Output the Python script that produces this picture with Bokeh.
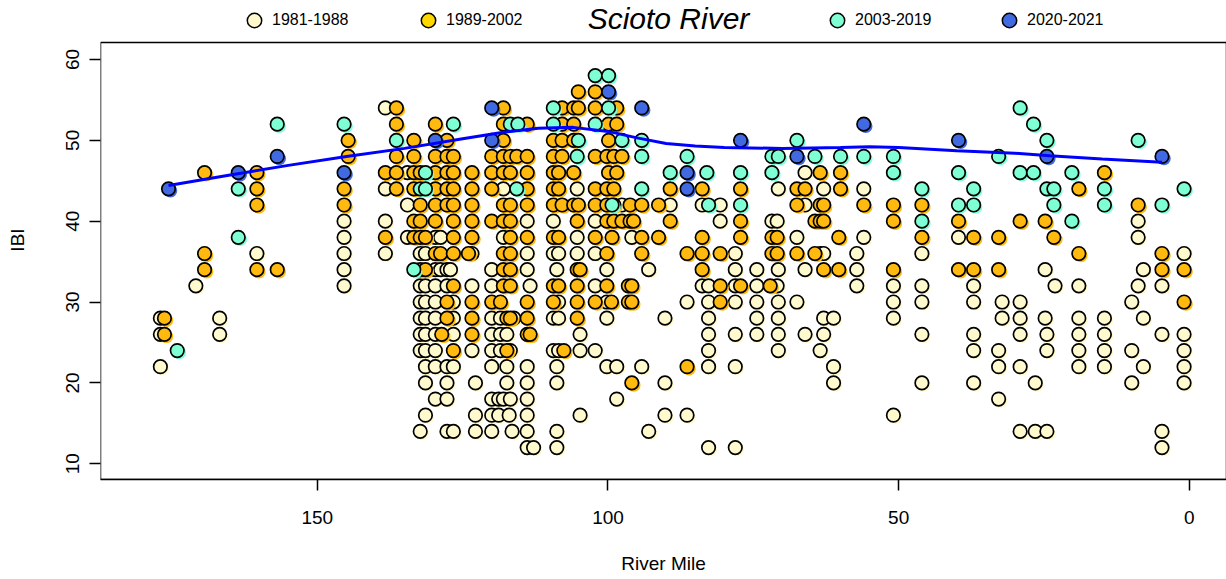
from bokeh.plotting import figure
from bokeh.models import Range1d, Legend, LegendItem, Label, FixedTicker, BoxAnnotation
from bokeh.embed import file_html
from bokeh.resources import INLINE

periods = ["1981-1988", "1989-2002", "2003-2019", "2020-2021"]
point_colors = ["#FFFACD", "#FFB90F", "#7FFFD4", "#4169E1"]
legend_colors = ["#FFFACD", "#FFD700", "#7FFFD4", "#4169E1"]

# ---- 1981-1988 ----
rm_1981 = [138.3,
           134.5, 66.1,
           138.3, 118.0, 105.3, 70.7, 62.9, 56.0,
           134.5, 97.6, 89.3, 83.8, 80.7, 66.1,
           145.4, 138.3, 113.9, 109.4, 102.2, 80.7, 71.8, 70.9, 8.8,
           145.4, 134.5, 129.7, 128.8, 118.0, 105.3, 95.9, 67.5, 56.0, 39.7, 8.8,
           160.4, 145.4, 138.3, 132.3, 131.4, 123.4, 113.9, 109.4, 108.5, 105.3, 102.2, 78.1, 63.5, 62.9, 57.2, 46.0, 0.9,
           145.4, 129.7, 128.8, 127.7, 127.1, 120.0, 113.9, 108.8, 100.2, 93.0, 78.1, 74.4, 70.7, 66.1, 57.2, 24.8, 7.9,
           170.9, 145.4, 132.3, 131.4, 129.7, 127.7, 123.4, 120.0, 113.4, 102.2, 83.8, 82.7, 78.1, 74.4, 70.9, 57.2, 50.9, 46.0, 37.1, 23.1, 19.0, 8.8, 4.7,
           132.3, 131.4, 129.7, 126.6, 108.5, 100.2, 86.4, 82.7, 78.1, 74.4, 70.7, 67.5, 50.9, 46.0, 37.1, 32.2, 29.1, 9.9,
           177.0, 166.8, 132.3, 131.4, 129.7, 126.6, 120.0, 118.5, 116.2, 109.4, 108.5, 100.2, 90.2, 82.7, 74.4, 70.7, 62.9, 61.2, 50.9, 32.2, 29.1, 24.8, 19.0, 14.6, 7.9,
           177.0, 166.8, 132.3, 131.4, 129.7, 126.6, 120.0, 118.5, 117.4, 104.8, 82.7, 78.1, 74.4, 70.7, 66.1, 62.9, 46.0, 37.1, 29.1, 24.5, 19.0, 14.6, 4.7, 0.9,
           132.3, 131.4, 129.7, 123.4, 120.0, 118.5, 116.8, 109.4, 108.5, 104.8, 102.2, 82.7, 70.7, 63.5, 37.1, 32.8, 24.5, 19.0, 14.6, 9.9, 0.9,
           177.0, 131.4, 129.7, 127.7, 126.6, 120.0, 117.4, 113.9, 108.8, 100.2, 98.5, 94.2, 82.7, 78.1, 61.2, 32.8, 29.1, 19.0, 14.6, 7.9, 0.9,
           131.4, 127.7, 122.8, 117.4, 113.9, 108.8, 90.2, 61.2, 46.0, 37.1, 26.5, 9.9, 0.9,
           129.7, 127.7, 120.0, 118.8, 118.0, 116.8, 113.9, 98.5, 32.8,
           131.4, 122.8, 120.0, 118.8, 117.0, 113.9, 104.8, 90.2, 86.4, 50.9,
           132.3, 127.7, 126.6, 122.8, 120.0, 116.5, 113.9, 108.8, 93.0, 29.1, 26.5, 24.5, 4.7,
           113.9, 112.8, 108.8, 82.7, 78.1, 4.7]
ibi_1981 = ([54] * 1 + [46] * 2 + [44] * 6 + [42] * 6 + [40] * 9 + [38] * 11 + [36] * 17 +
            [34] * 17 + [32] * 23 + [30] * 18 + [28] * 25 + [26] * 24 + [24] * 21 + [22] * 21 +
            [20] * 13 + [18] * 9 + [16] * 10 + [14] * 13 + [12] * 6)

# ---- 1989-2002 ----
rm_1989 = [105.1, 102.2,
           136.4, 118.0, 107.9, 105.9, 105.1, 102.2, 98.5,
           136.4, 129.7, 118.0, 113.9, 107.9, 105.9, 99.9, 98.5,
           144.7, 133.4, 127.7, 118.0, 109.4, 107.9, 105.9, 99.9,
           144.7, 136.4, 133.4, 129.7, 127.7, 126.6, 120.0, 118.0, 116.8, 115.7, 113.9, 109.4, 107.9, 102.2, 100.2, 99.0, 97.6,
           169.4, 160.4, 138.3, 136.4, 133.4, 132.3, 129.7, 127.7, 126.6, 123.4, 120.0, 118.0, 116.8, 113.9, 109.4, 108.5, 105.9, 99.9, 98.5, 63.5, 60.0, 14.6,
           160.4, 145.4, 136.4, 133.4, 129.7, 127.7, 126.6, 123.4, 120.0, 113.9, 109.4, 108.5, 102.2, 100.2, 99.0, 89.3, 83.8, 77.2, 67.5, 66.1, 60.0, 19.0,
           160.4, 145.4, 132.3, 129.7, 127.7, 126.6, 123.4, 118.0, 116.8, 113.9, 109.4, 107.9, 105.9, 105.1, 102.2, 100.2, 99.0, 96.2, 94.2, 91.3, 67.5, 63.5, 62.9, 56.0, 50.9, 46.0, 8.8,
           133.4, 132.3, 129.7, 126.6, 123.4, 120.0, 118.0, 116.8, 105.3, 100.2, 99.0, 97.6, 96.2, 95.6, 89.3, 77.2, 64.4, 63.5, 62.9, 50.9, 39.7, 29.1, 24.8,
           138.3, 133.4, 132.3, 131.4, 126.6, 123.4, 116.8, 113.9, 109.4, 108.5, 102.2, 99.3, 94.2, 91.3, 83.8, 77.2, 71.8, 70.9, 60.3, 46.0, 37.1, 32.8, 23.3,
           169.4, 129.7, 128.8, 126.6, 124.0, 118.0, 116.8, 100.2, 94.2, 86.4, 83.8, 80.7, 71.8, 70.9, 67.5, 64.4, 19.0, 4.7,
           169.4, 160.4, 156.9, 132.3, 131.4, 118.0, 116.8, 105.3, 104.8, 83.8, 62.9, 60.3, 50.9, 39.7, 37.1, 32.8, 4.7, 0.9,
           126.6, 118.0, 116.8, 109.4, 108.5, 105.3, 100.2, 96.5, 95.9, 80.7, 77.2, 72.1,
           127.7, 123.4, 120.0, 118.5, 113.9, 109.4, 105.3, 102.2, 99.4, 96.5, 95.9, 80.7, 0.9,
           176.3, 127.7, 123.4, 117.4, 116.8, 113.9, 105.3,
           176.3, 128.6, 123.4, 113.9, 113.4,
           126.6, 117.4, 107.6,
           86.4,
           95.9]
ibi_1989 = ([56] * 2 + [54] * 7 + [52] * 8 + [50] * 8 + [48] * 17 + [46] * 22 + [44] * 22 +
            [42] * 27 + [40] * 23 + [38] * 23 + [36] * 18 + [34] * 18 + [32] * 12 + [30] * 13 +
            [28] * 7 + [26] * 5 + [24] * 3 + [22] * 1 + [20] * 1)

# ---- 2003-2019 ----
rm_2003 = [102.2, 99.9,
           109.4, 99.9, 29.1,
           156.9, 145.4, 126.6, 116.8, 115.5, 109.4, 102.2, 26.8,
           136.4, 105.1, 97.6, 94.2, 67.5, 24.5, 8.8,
           105.3, 94.2, 86.4, 71.8, 70.7, 64.4, 60.0, 56.0, 50.9, 32.8,
           131.4, 89.3, 83.0, 77.2, 71.8, 50.9, 39.7, 29.1, 26.8, 20.2,
           163.6, 132.3, 131.4, 115.7, 94.2, 46.0, 37.1, 24.5, 23.3, 14.6, 0.9,
           99.3, 82.7, 77.2, 39.7, 37.1, 23.3, 14.6, 4.7,
           46.0, 20.2,
           163.6,
           133.4,
           174.1]
ibi_2003 = ([58] * 2 + [54] * 3 + [52] * 8 + [50] * 7 + [48] * 10 + [46] * 10 + [44] * 11 +
            [42] * 8 + [40] * 2 + [38] * 1 + [34] * 1 + [24] * 1)

# ---- 2020-2021 ----
rm_2020 = [99.9, 120.0, 94.2, 56.0, 129.7, 120.0, 77.2, 39.7,
           156.9, 67.5, 24.5, 4.7, 163.6, 145.4, 86.4, 175.6, 86.4]
ibi_2020 = [56, 54, 54, 52, 50, 50, 50, 50,
            48, 48, 48, 48, 46, 46, 46, 44, 44]

# ---- smoothed trend ----
trend_rm = [175.6, 165, 155, 145, 135, 125, 118, 112, 106, 100, 95, 90, 85, 80,
            70, 60, 55, 50, 40, 30, 24, 15, 4.7]
trend_ibi = [44.4, 45.7, 46.9, 48.0, 49.0, 50.2, 51.0, 51.5, 51.6, 51.1, 50.3, 49.6, 49.3, 49.1,
             49.0, 49.1, 49.2, 49.1, 48.7, 48.4, 48.1, 47.7, 47.3]

# plotting region: box from IBI 8.05 to 62.1; the frame extends up to the page top
x_lo, x_hi = 187.3, -6.4
box_bottom, box_top = 8.05, 62.1
y_top = 67.29
frame_w, frame_h = 1126, 479

p = figure(width=1226, height=576, output_backend="svg", toolbar_location=None,
           x_range=Range1d(x_lo, x_hi), y_range=Range1d(box_bottom, y_top),
           min_border_left=100, min_border_right=0, min_border_top=0, min_border_bottom=97)
p.xgrid.visible = False
p.ygrid.visible = False
p.outline_line_color = None
p.background_fill_color = "white"
p.border_fill_color = "white"

box = BoxAnnotation(left=x_lo, right=x_hi, bottom=box_bottom, top=box_top,
                    fill_alpha=0, fill_color=None, line_color="black", line_width=1.5,
                    line_alpha=1.0, level="underlay")
p.add_layout(box)

# shadow offset of 2 px right / down, converted into data units
dx = 2 * (x_lo - x_hi) / frame_w
dy = 2 * (y_top - box_bottom) / frame_h

series = [(rm_1981, ibi_1981), (rm_1989, ibi_1989), (rm_2003, ibi_2003), (rm_2020, ibi_2020)]
for (rm, ibi), col in zip(series, point_colors):
    p.scatter(x=[m - dx for m in rm], y=[v - dy for v in ibi], size=13.5,
              fill_color=col, line_color=None)
    p.scatter(x=rm, y=ibi, size=13.5, fill_color=col, line_color="black", line_width=1.7)

p.line(trend_rm, trend_ibi, line_color="#0000FF", line_width=3)

for ax in (p.xaxis[0], p.yaxis[0]):
    ax.axis_line_width = 1.5
    ax.major_tick_line_color = "black"
    ax.major_tick_line_width = 1.5
    ax.major_tick_out = 11
    ax.major_tick_in = 0
    ax.minor_tick_line_color = None
    ax.major_label_text_font = "Liberation Sans"
    ax.major_label_text_font_size = "19px"
    ax.major_label_text_color = "black"
    ax.axis_label_text_font = "Liberation Sans"
    ax.axis_label_text_font_size = "19px"
    ax.axis_label_text_font_style = "normal"
    ax.axis_label_text_color = "black"

p.xaxis.axis_line_color = "black"
p.yaxis.axis_line_color = None
p.xaxis.ticker = FixedTicker(ticks=[0, 50, 100, 150])
p.yaxis.ticker = FixedTicker(ticks=[10, 20, 30, 40, 50, 60])
p.xaxis.axis_label = "River Mile"
p.yaxis.axis_label = "IBI"
p.xaxis.major_label_standoff = 20
p.xaxis.axis_label_standoff = 26
p.yaxis.major_label_orientation = "parallel"
p.yaxis.major_label_standoff = 10
p.yaxis.axis_label_standoff = 36

# legend entries placed around the title (screen offsets from the frame's bottom-left)
legend_left = [136, 310, 719, 891]
nan = float("nan")
for lab, col, lx in zip(periods, legend_colors, legend_left):
    r = p.scatter(x=[nan], y=[nan], size=14, fill_color=col, line_color="black", line_width=1.5)
    lg = Legend(items=[LegendItem(label=lab, renderers=[r])], location=(lx, 439),
                orientation="horizontal", glyph_width=36, glyph_height=40,
                label_standoff=-4, padding=0, margin=0, spacing=0,
                border_line_color=None, background_fill_alpha=0,
                label_text_font="Liberation Sans", label_text_font_size="16px",
                label_text_color="black", label_height=16)
    p.add_layout(lg, "center")

title = Label(x=568, y=461, x_units="screen", y_units="screen", text="Scioto River",
              text_font="Liberation Sans", text_font_style="italic", text_font_size="30px",
              text_align="center", text_baseline="alphabetic", text_color="black")
p.add_layout(title)

open("out.html", "w").write(file_html(p, INLINE))
